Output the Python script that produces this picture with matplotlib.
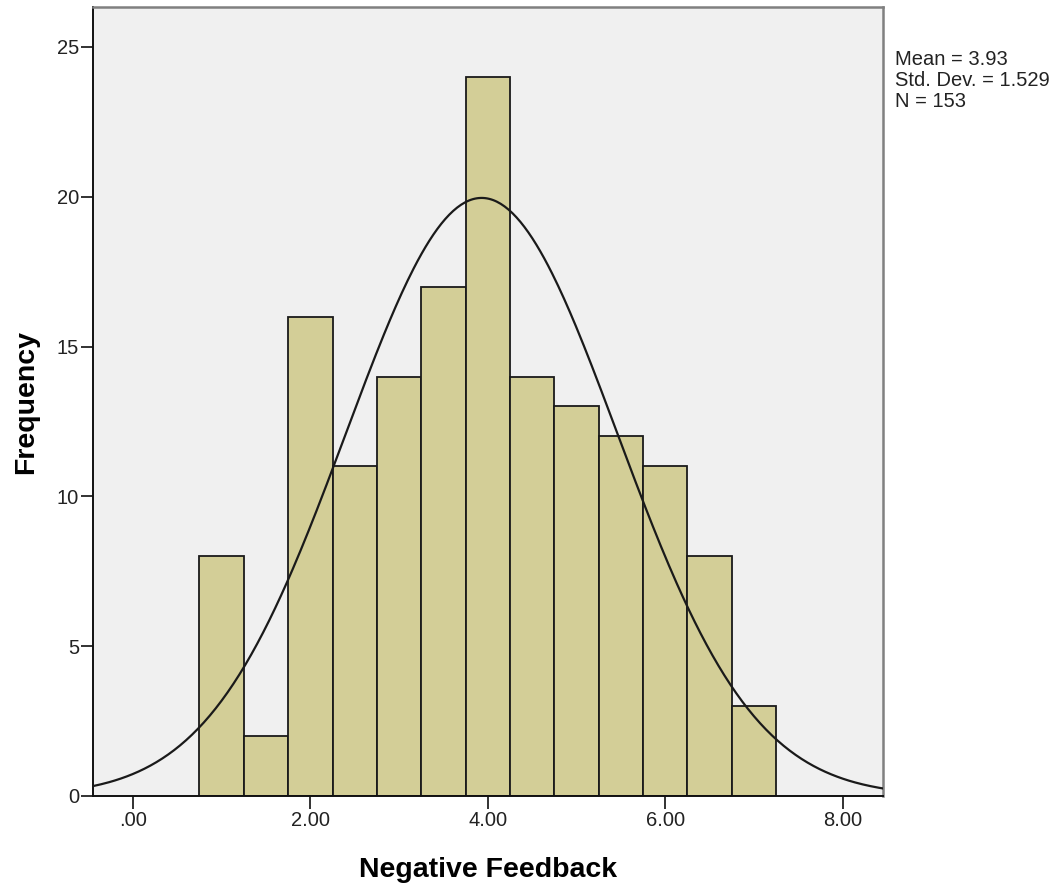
import numpy as np
import matplotlib
matplotlib.use("Agg")
import matplotlib.pyplot as plt
from matplotlib.ticker import FuncFormatter

plt.rcParams['font.family'] = ['Liberation Sans', 'DejaVu Sans']

# Histogram of Negative Feedback scores (bin width 0.5)
bin_centers = [1.0, 1.5, 2.0, 2.5, 3.0, 3.5, 4.0, 4.5, 5.0, 5.5, 6.0, 6.5, 7.0]
counts = [8, 2, 16, 11, 14, 17, 24, 14, 13, 12, 11, 8, 3]
bin_width = 0.5

mean_val = 3.93
std_val = 1.529
n_val = 153

x_ticks = [0, 2, 4, 6, 8]
y_ticks = [0, 5, 10, 15, 20, 25]

fig = plt.figure(figsize=(10.59, 8.85), dpi=100)
ax = fig.add_axes([0.0878, 0.1006, 0.7457, 0.8914])
ax.set_facecolor('#F0F0F0')

ax.bar(bin_centers, counts, width=bin_width, color='#D3CE97',
       edgecolor='#1a1a1a', linewidth=1.3, zorder=2)

# Normal curve scaled to the histogram
xs = np.linspace(-0.45, 8.45, 400)
pdf = np.exp(-0.5 * ((xs - mean_val) / std_val) ** 2) / (std_val * np.sqrt(2 * np.pi))
ax.plot(xs, pdf * n_val * bin_width, color='#1a1a1a', linewidth=1.6, zorder=3)

ax.set_xlim(-0.45, 8.45)
ax.set_ylim(0, 26.33)
ax.set_xticks(x_ticks)
ax.set_yticks(y_ticks)


def fmt_x(v, pos):
    s = f"{v:.2f}"
    return s[1:] if s.startswith("0.") else s


ax.xaxis.set_major_formatter(FuncFormatter(fmt_x))
ax.tick_params(axis='x', direction='out', length=9, width=1.3, labelsize=14.5,
               pad=2, colors='#222222')
ax.tick_params(axis='y', direction='out', length=9, width=1.3, labelsize=14.5,
               pad=1, colors='#222222')

for side in ('left', 'bottom'):
    ax.spines[side].set_color('#111111')
    ax.spines[side].set_linewidth(1.4)
for side in ('top', 'right'):
    ax.spines[side].set_color('#808080')
    ax.spines[side].set_linewidth(1.8)

ax.set_xlabel('Negative Feedback', fontsize=20.5, fontweight='bold', labelpad=19)
ax.set_ylabel('Frequency', fontsize=20.5, fontweight='bold', labelpad=13)

fig.text(0.845, 0.944, f"Mean = {mean_val:.2f}\nStd. Dev. = {std_val:.3f}\nN = {n_val}",
         fontsize=14.5, va='top', ha='left', linespacing=1.15, color='#222222')

fig.savefig('out.png', dpi=100)
